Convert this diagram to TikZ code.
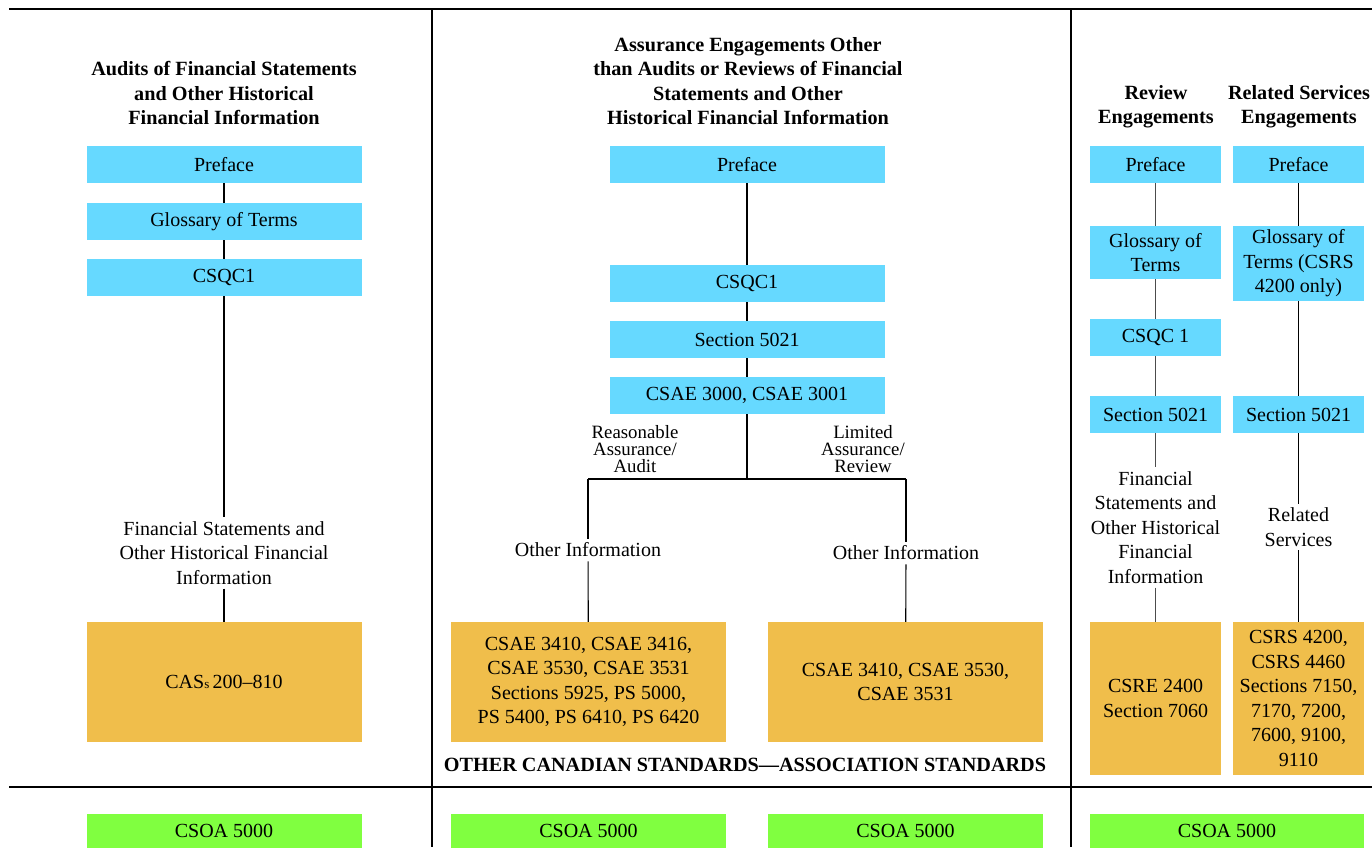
\documentclass[tikz,border=0pt]{standalone}
\usepackage{fontspec}
\setmainfont{Liberation Serif}
\definecolor{boxblue}{HTML}{66D9FF}
\definecolor{boxgold}{HTML}{F0BE4B}
\definecolor{boxgreen}{HTML}{80FF40}
\begin{document}
\begin{tikzpicture}[x=1pt,y=-1pt,
  every node/.style={font=\fontsize{20}{24.5}\selectfont, align=center, inner sep=0pt},
  stdbox/.style={fill=boxblue, minimum width=275, minimum height=37},
  narrowbox/.style={fill=boxblue, minimum width=131, minimum height=37},
  resultbox/.style={fill=boxgold, minimum width=275, minimum height=120},
  narrowresult/.style={fill=boxgold, minimum width=131, minimum height=153},
  oabox/.style={fill=boxgreen, minimum width=275, minimum height=34},
  head/.style={font=\bfseries\fontsize{20.2}{24.3}\selectfont},
  branchlabel/.style={font=\fontsize{18.8}{17}\selectfont},
  link/.style={line width=1.1pt},
  divider/.style={line width=1.4pt},
  txt/.style={inner sep=4pt}]
\clip (0,0) rectangle (1372,847);
\useasboundingbox (0,0) rectangle (1372,847);

% frame lines
\draw[divider] (9,9) -- (1372,9);
\draw[divider] (9,787) -- (1372,787);
\draw[divider] (432,9) -- (432,847);
\draw[divider] (1071,9) -- (1071,847);

% column 1: audits
\node[head] (h1) at (224,93) {Audits of Financial Statements\\and Other Historical\\Financial Information};
\node[stdbox] (c1pre) at (224,164.5) {Preface};
\node[stdbox] (c1glo) at (224,221.5) {Glossary of Terms};
\node[stdbox] (c1csqc) at (224,277.5) {CSQC1};
\node[txt] (c1txt) at (224,553) {Financial Statements and\\Other Historical Financial\\Information};
\node[resultbox] (c1cas) at (224,682) {CAS{\fontsize{13}{14}\selectfont s}\,200--810};
\draw[link] (c1pre) -- (c1glo);
\draw[link] (c1glo) -- (c1csqc);
\draw[link] (c1csqc) -- (c1txt);
\draw[link] (c1txt) -- (c1cas);

% column 2: other assurance engagements
\node[head] (h2) at (748,81) {Assurance Engagements Other\\than Audits or Reviews of Financial\\Statements and Other\\Historical Financial Information};
\node[stdbox] (c2pre) at (747,164.5) {Preface};
\node[stdbox] (c2csqc) at (747,283.5) {CSQC1};
\node[stdbox] (c2sec) at (747,339.5) {Section 5021};
\node[stdbox] (c2csae) at (747,395.5) {CSAE 3000, CSAE 3001};
\coordinate (c2j) at (747,479);
\coordinate (c2jl) at (588,479);
\coordinate (c2jr) at (906,479);
\node[branchlabel] (c2la) at (635,449) {Reasonable\\Assurance/\\Audit};
\node[branchlabel] (c2ra) at (863,449) {Limited\\Assurance/\\Review};
\node[txt] (c2ltxt) at (588,550) {Other Information};
\node[txt] (c2rtxt) at (906,553) {Other Information};
\node[resultbox] (c2lbox) at (588.5,682) {CSAE 3410, CSAE 3416,\\CSAE 3530, CSAE 3531\\Sections 5925, PS 5000,\\PS 5400, PS 6410, PS 6420};
\node[resultbox] (c2rbox) at (905.5,682) {CSAE 3410, CSAE 3530,\\CSAE 3531};
\node[head] (foot) at (745,765) {OTHER CANADIAN STANDARDS---ASSOCIATION STANDARDS};
\draw[link] (c2pre) -- (c2csqc);
\draw[link] (c2csqc) -- (c2sec);
\draw[link] (c2sec) -- (c2csae);
\draw[link] (c2csae) -- (c2j);
\draw[link] (c2jl) -- (c2jr);
\draw[link] (c2jl) -- (c2ltxt);
\draw[link] (c2ltxt) -- (c2lbox);
\draw[link] (c2jr) -- (c2rtxt);
\draw[link] (c2rtxt) -- (c2rbox);

% column 3: review and related services
\node[head] (h3a) at (1156,107) {Review\\Engagements};
\node[head] (h3b) at (1299,107) {Related Services\\Engagements};
\node[narrowbox] (c3apre) at (1155.5,164.5) {Preface};
\node[narrowbox] (c3bpre) at (1298.5,164.5) {Preface};
\node[narrowbox, minimum height=53] (c3aglo) at (1155.5,252.5) {Glossary of\\Terms};
\node[narrowbox, minimum height=75] (c3bglo) at (1298.5,263.5) {Glossary of\\Terms (CSRS\\4200 only)};
\node[narrowbox] (c3acsqc) at (1155.5,337.5) {CSQC 1};
\node[narrowbox] (c3asec) at (1155.5,414.5) {Section 5021};
\node[narrowbox] (c3bsec) at (1298.5,414.5) {Section 5021};
\node[txt] (c3atxt) at (1155.5,527.5) {Financial\\Statements and\\Other Historical\\Financial\\Information};
\node[txt] (c3btxt) at (1298.5,527) {Related\\Services};
\node[narrowresult] (c3abox) at (1155.5,698.5) {CSRE 2400\\Section 7060};
\node[narrowresult] (c3bbox) at (1298.5,698.5) {CSRS 4200,\\CSRS 4460\\Sections 7150,\\7170, 7200,\\7600, 9100,\\9110};
\draw[link, black!70] (c3apre) -- (c3aglo);
\draw[link, black!70] (c3aglo) -- (c3acsqc);
\draw[link, black!70] (c3acsqc) -- (c3asec);
\draw[link, black!70] (c3asec) -- (c3atxt);
\draw[link, black!70] (c3atxt) -- (c3abox);
\draw[link] (c3bpre) -- (c3bglo);
\draw[link] (c3bglo) -- (c3bsec);
\draw[link] (c3bsec) -- (c3btxt);
\draw[link] (c3btxt) -- (c3bbox);

% CSOA row
\node[oabox] (oa1) at (224,831) {CSOA 5000};
\node[oabox] (oa2) at (588.5,831) {CSOA 5000};
\node[oabox] (oa3) at (905.5,831) {CSOA 5000};
\node[oabox, minimum width=274] (oa4) at (1227,831) {CSOA 5000};
\end{tikzpicture}
\end{document}
